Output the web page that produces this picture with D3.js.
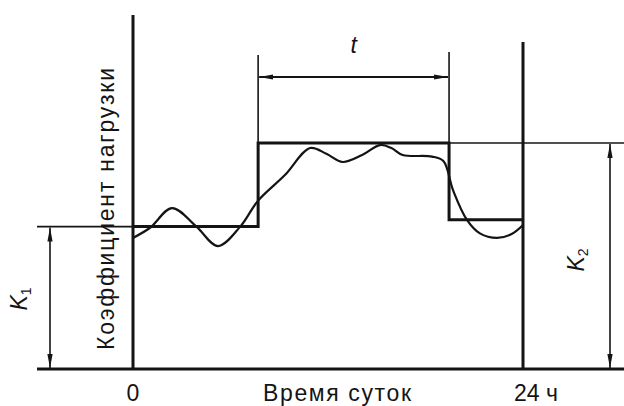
<!DOCTYPE html>
<html><head><meta charset="utf-8">
<script src="https://cdn.jsdelivr.net/npm/d3@7"></script>
<style>html,body{margin:0;padding:0;background:#fff;}svg{display:block;font-family:"Liberation Sans",Arial,sans-serif;}</style>
</head><body>
<svg id="c" width="624" height="406"></svg>
<script>
// Data (hours of day, load coefficient relative to K2 = 1)
const dayHours = [0, 24];
const stepStart = 7.7;      // start of peak period t
const stepEnd = 19.45;      // end of peak period t
const levelK1 = 0.63;       // average load before peak
const levelK2 = 1.0;        // peak load
const levelEvening = 0.66;  // load after peak
const curveHours = [0, 1.05, 2.4, 3.9, 5.23, 6.6, 7.7, 9.35, 10.9, 11.9, 12.9, 14.1, 15.2, 15.9, 16.6, 18.4, 19.1, 19.7, 20.55, 21.35, 22.4, 23.3, 24];
const curveLoad  = [0.58, 0.625, 0.712, 0.63, 0.544, 0.63, 0.745, 0.858, 0.978, 0.952, 0.916, 0.947, 0.991, 0.978, 0.947, 0.94, 0.92, 0.79, 0.66, 0.60, 0.58, 0.597, 0.637];
const xTickLabels = ["0", "24 ч"];

const svg = d3.select("#c");
const ink = "#141414";
const x = d3.scaleLinear().domain([0, 24]).range([133, 523]);
const y = d3.scaleLinear().domain([0, 1]).range([369, 143]);

const defs = svg.append("defs");
defs.append("marker").attr("id", "ah").attr("viewBox", "0 -4 14 8")
  .attr("refX", 14).attr("refY", 0).attr("markerWidth", 14).attr("markerHeight", 8)
  .attr("markerUnits", "userSpaceOnUse").attr("orient", "auto-start-reverse")
  .append("path").attr("d", "M0,-2.6L14,0L0,2.6Z").attr("fill", ink);

function line(x1, y1, x2, y2, w) {
  return svg.append("line").attr("x1", x1).attr("y1", y1).attr("x2", x2).attr("y2", y2)
    .attr("stroke", ink).attr("stroke-width", w);
}

// thin reference lines
line(37, y(levelK1), x(0), y(levelK1), 1.6);
line(x(stepStart), y(levelK2), 624, y(levelK2), 1.6);
line(x(stepStart), 55, x(stepStart), y(levelK2), 1.6);
line(x(stepEnd), 52, x(stepEnd), y(levelK2), 1.6);

// axes
line(37, y(0), 624, y(0), 3);
line(x(0), 15, x(0), y(0), 3);
line(x(24), 42, x(24), y(0), 3);

// step (equivalent two-level) graph
const steps = [[0, levelK1], [stepStart, levelK1], [stepStart, levelK2], [stepEnd, levelK2], [stepEnd, levelEvening], [24, levelEvening]];
svg.append("path").datum(steps)
  .attr("d", d3.line().x(d => x(d[0])).y(d => y(d[1])))
  .attr("fill", "none").attr("stroke", ink).attr("stroke-width", 3).attr("stroke-linejoin", "miter");

// actual load curve
const pts = curveHours.map((h, i) => [h, curveLoad[i]]);
svg.append("path").datum(pts)
  .attr("d", d3.line().x(d => x(d[0])).y(d => y(d[1])).curve(d3.curveCatmullRom.alpha(0.5)))
  .attr("fill", "none").attr("stroke", ink).attr("stroke-width", 2.2);

// dimension arrows
line(x(stepStart) + 1, 77, x(stepEnd) - 1, 77, 1.8).attr("marker-start", "url(#ah)").attr("marker-end", "url(#ah)");
line(50, y(levelK1) + 1, 50, y(0) - 1, 1.6).attr("marker-start", "url(#ah)").attr("marker-end", "url(#ah)");
line(610, y(levelK2) + 1, 610, y(0) - 1, 1.6).attr("marker-start", "url(#ah)").attr("marker-end", "url(#ah)");

// labels
const fs = 23;
svg.append("text").attr("x", (x(stepStart) + x(stepEnd)) / 2).attr("y", 53)
  .attr("text-anchor", "middle").attr("font-style", "italic").attr("font-size", 23).attr("fill", ink).text("t");

const k1 = svg.append("text").attr("transform", "translate(27,299) rotate(-90)")
  .attr("text-anchor", "middle").attr("font-style", "italic").attr("font-size", 23).attr("fill", ink);
k1.append("tspan").text("K");
k1.append("tspan").attr("font-size", 14).attr("dy", 4).attr("font-style", "normal").text("1");

const k2 = svg.append("text").attr("transform", "translate(584,260) rotate(-90)")
  .attr("text-anchor", "middle").attr("font-style", "italic").attr("font-size", 23).attr("fill", ink);
k2.append("tspan").text("K");
k2.append("tspan").attr("font-size", 14).attr("dy", 4).attr("font-style", "normal").text("2");

svg.append("text").attr("transform", "translate(114,209) rotate(-90)")
  .attr("text-anchor", "middle").attr("font-size", fs).attr("fill", ink)
  .attr("textLength", 282).attr("lengthAdjust", "spacing").text("Коэффициент  нагрузки");

svg.selectAll("text.xt").data(dayHours).join("text").attr("class", "xt")
  .attr("x", (d, i) => x(d) + (i === 1 ? 13 : 0)).attr("y", 401)
  .attr("text-anchor", "middle").attr("font-size", fs).attr("fill", ink)
  .text((d, i) => xTickLabels[i]);

svg.append("text").attr("x", 337).attr("y", 401).attr("text-anchor", "middle")
  .attr("font-size", fs).attr("fill", ink)
  .attr("textLength", 148).attr("lengthAdjust", "spacing").text("Время суток");
</script>
</body></html>
